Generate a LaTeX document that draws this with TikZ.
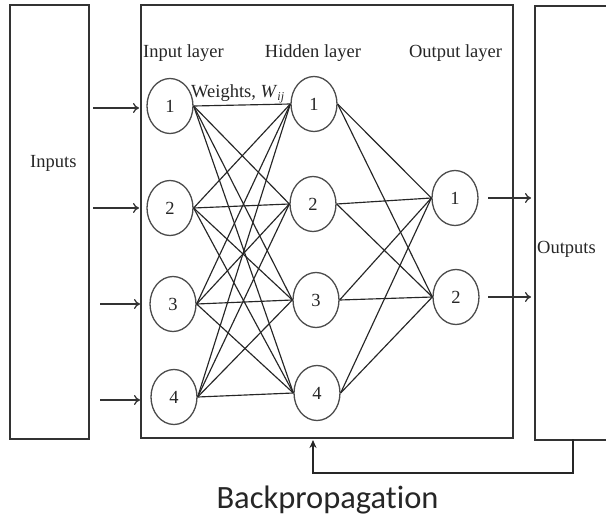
\documentclass[tikz,border=0pt]{standalone}
\usepackage{fontspec}
\setmainfont{Liberation Serif}
\newfontfamily\carl[Ligatures=NoCommon]{Carlito}
\usetikzlibrary{shapes.geometric,arrows.meta}
\begin{document}
\begin{tikzpicture}[x=1pt,y=-1pt,
  boxline/.style={rectangle, draw=black!80, line width=1.7pt, inner sep=0pt},
  neuron/.style={ellipse, draw=black!70, line width=1.3pt, minimum width=46pt, minimum height=55pt, inner sep=0pt, font=\fontsize{18.5}{20}\selectfont, text=black!85},
  conn/.style={draw=black!85, line width=1.15pt},
  lbl/.style={font=\fontsize{18.5}{22}\selectfont, text=black!85, inner sep=0pt},
  inarrow/.style={-{To[length=6pt,width=10pt]}, line width=1.3pt, draw=black!80}]
\useasboundingbox (0,0) rectangle (606,522);
\fill[white] (0,0) rectangle (606,522);
% boxes
\node[boxline, minimum width=79pt, minimum height=434pt] (inbox) at (49.5,222) {};
\node[boxline, minimum width=372pt, minimum height=433pt] (mainbox) at (327,221.5) {};
\node[boxline, minimum width=110pt, minimum height=434pt, anchor=north west] (outbox) at (534,5) {};
% box labels
\node[lbl, anchor=base west] (inputs) at (30,167) {Inputs};
\node[lbl, anchor=base west] (outputs) at (537,253) {Outputs};
% layer labels
\node[lbl, anchor=base] (linput) at (183.5,57) {Input layer};
\node[lbl, anchor=base] (lhidden) at (313,57) {Hidden layer};
\node[lbl, anchor=base] (loutput) at (455.5,57) {Output layer};
\node[lbl, anchor=base west] (lweights) at (191,97) {Weights, \textit{W}\raisebox{-3pt}{\fontsize{12}{12}\selectfont\textit{ij}}};
% neurons
\node[neuron] (i1) at (170,106) {1};
\node[neuron] (i2) at (170,208) {2};
\node[neuron] (i3) at (173,304) {3};
\node[neuron] (i4) at (174,397) {4};
\node[neuron] (h1) at (314,104) {1};
\node[neuron] (h2) at (313,204) {2};
\node[neuron] (h3) at (316,300) {3};
\node[neuron] (h4) at (317,393) {4};
\node[neuron] (o1) at (455,198) {1};
\node[neuron] (o2) at (456,297) {2};
% connections
\foreach \i in {1,...,4}{
  \foreach \j in {1,...,4}{
    \draw[conn] (i\i.east) -- (h\j.west);
  }
  \foreach \j in {1,2}{
    \draw[conn] (h\i.east) -- (o\j.west);
  }
}
% input arrows
\coordinate (a1s) at (93,108);  \coordinate (a1e) at (139,108);
\coordinate (a2s) at (93,208);  \coordinate (a2e) at (139,208);
\coordinate (a3s) at (100,304); \coordinate (a3e) at (140,304);
\coordinate (a4s) at (100,400); \coordinate (a4e) at (140,400);
\draw[inarrow] (a1s) -- (a1e);
\draw[inarrow] (a2s) -- (a2e);
\draw[inarrow] (a3s) -- (a3e);
\draw[inarrow] (a4s) -- (a4e);
% output arrows
\coordinate (b1s) at (488,198); \coordinate (b1e) at (531,198);
\coordinate (b2s) at (488,297); \coordinate (b2e) at (531,297);
\draw[inarrow] (b1s) -- (b1e);
\draw[inarrow] (b2s) -- (b2e);
% backpropagation feedback
\coordinate (fbstart) at (573,439);
\coordinate (fbcorner) at (573,473);
\coordinate (fbend) at (313,440);
\draw[-{Stealth[length=8pt,width=7pt]}, line width=1.4pt, draw=black!85] (fbstart) -- (fbcorner) -| (fbend);
\node[font=\carl\fontsize{32.5}{36}\selectfont, text=black!85, anchor=base, inner sep=0pt] (bp) at (327.5,508) {Backpropagation};
\end{tikzpicture}
\end{document}
